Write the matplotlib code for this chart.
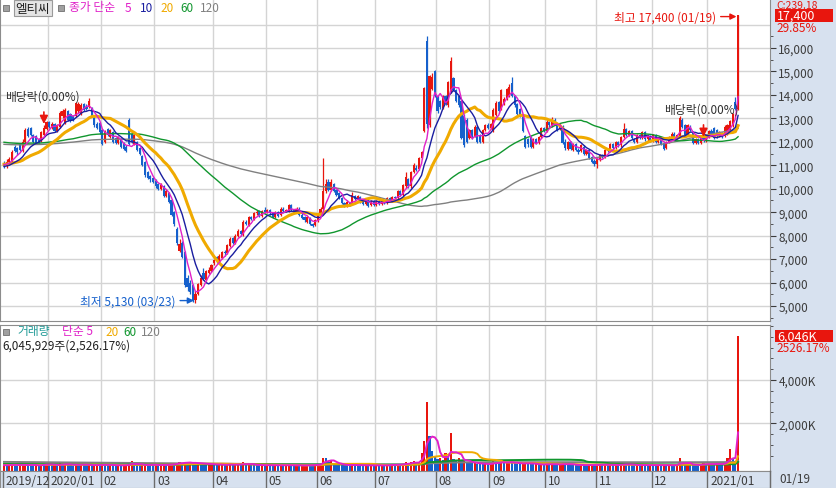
import numpy as np
import pandas as pd
import matplotlib
matplotlib.use("Agg")
import matplotlib.pyplot as plt
from matplotlib.patches import Rectangle
from matplotlib import transforms
from matplotlib.ticker import FixedLocator, FuncFormatter

plt.rcParams['font.family'] = ['Noto Sans CJK KR', 'DejaVu Sans']

W, H = 836, 489

# trading days per month shown on the chart
month_labels = ["2019/12", "2020/01", "02", "03", "04", "05", "06", "07",
                "08", "09", "10", "11", "12", "2021/01"]
month_days = [17, 20, 20, 22, 20, 19, 22, 23, 20, 21, 19, 21, 21, 12]
last_label = "01/19"

opens = [
    11100, 10950, 11150, 11200, 11800, 11750, 11900, 11600, 12000, 12550, 12600, 12300, 12250, 12100, 12050, 12300, 12550,
    12850, 12600, 12750, 12450, 12650, 13100, 12800, 13300, 13200, 13100, 13100, 13300, 13200, 13600, 13500, 13500, 13450, 13050, 12750, 12800,
    12500, 12000, 12550, 12200, 12400, 12150, 11950, 12100, 11950, 11800, 12950, 12350, 11900, 12000, 11750, 11400, 11150, 10700, 10550, 10450,
    10350, 10200, 10000, 10100, 9700, 9800, 9500, 9000, 8300, 7350, 7700, 7300, 6200, 6000, 5900, 5250, 5500, 5900, 6400, 6100, 6400, 6500,
    6850, 7100, 6850, 7050, 7300, 7250, 7550, 7900, 7700, 8000, 8200, 8050, 8600, 8450, 8800, 8700, 8950, 9050, 8850, 9100,
    9000, 9100, 8950, 8800, 9000, 8900, 9150, 9050, 9050, 9300, 9100, 9000, 9150, 8900, 8800, 8600, 8750, 8500, 8450,
    8650, 8900, 9150, 9900, 10300, 9950, 10200, 9950, 9800, 9600, 9400, 9250, 9400, 9350, 9700, 9550, 9650, 9450, 9350, 9500, 9300, 9450,
    9300, 9450, 9350, 9450, 9400, 9600, 9500, 9650, 9600, 9900, 9750, 10100, 10400, 10100, 10700, 10900, 10850, 11300, 12450, 16300, 12700, 14250, 15000,
    13950, 13750, 13450, 13950, 13550, 14150, 14700, 14200, 13950, 13750, 13100, 12950, 12150, 12500, 12250, 12650, 12300, 12000, 12500, 12700,
    12600, 12450, 13150, 13700, 13400, 13620, 13850, 13950, 14500, 13950, 13600, 13400, 13100, 12250, 12100, 12200, 11800, 12100, 11950, 12200, 12600,
    12450, 12850, 12700, 12950, 12750, 12550, 12650, 12000, 11700, 12000, 11650, 11900, 11650, 11600, 11800, 11500, 11650, 11350, 11200,
    11050, 11250, 11450, 11350, 11650, 11600, 11900, 11750, 12000, 11850, 12200, 12550, 12300, 12450, 12100, 12000, 12300, 12150, 12400, 12100, 12250,
    12050, 12300, 12000, 12150, 11950, 11750, 12000, 12150, 12350, 12150, 12250, 12950, 12700, 12300, 12650, 12400, 11950, 12100, 11950, 12250, 12050,
    12200, 12450, 12600, 12500, 12250, 12350, 12250, 12350, 12500, 12700, 13700, 13400,
]
closes = [
    10950, 11150, 11250, 11550, 11600, 11550, 11650, 12000, 12500, 12250, 12300, 12000, 11950, 12000, 12400, 12600, 12850,
    12650, 12750, 12450, 12700, 13250, 13300, 13350, 12950, 12900, 12950, 13650, 13600, 13550, 13350, 13400, 13750, 13100, 12700, 12600, 12400,
    11900, 12450, 12300, 12500, 12000, 11950, 12200, 11800, 11700, 11600, 11900, 12000, 12300, 11650, 11500, 11000, 10600, 10450, 10400, 10300,
    10100, 10000, 10150, 9700, 9900, 9450, 8900, 8500, 7700, 7650, 7100, 5900, 5800, 5600, 5250, 5500, 5950, 6200, 6150, 6500, 6550, 6750,
    6950, 6900, 7150, 7300, 7250, 7600, 7850, 7700, 8000, 8200, 8050, 8600, 8500, 8800, 8700, 8950, 9000, 8850, 9050, 9000,
    9100, 8950, 8800, 9000, 8850, 9150, 9050, 9100, 9300, 9100, 9000, 9150, 8900, 8750, 8650, 8800, 8500, 8400, 8650,
    8900, 9150, 9900, 10200, 9950, 10300, 9900, 9750, 9600, 9400, 9250, 9450, 9300, 9750, 9550, 9700, 9450, 9350, 9500, 9250, 9450, 9300,
    9450, 9350, 9500, 9400, 9600, 9500, 9650, 9600, 9900, 9750, 10150, 10500, 10100, 10700, 11000, 10800, 11300, 11550, 14300, 12750, 14800, 14750, 13950,
    13300, 13500, 13950, 13600, 14550, 15450, 14200, 13750, 13550, 12150, 11850, 12000, 12500, 12150, 12650, 12000, 12000, 12500, 12700, 12600,
    12750, 13350, 13650, 13300, 14200, 13830, 14250, 14350, 13950, 13550, 13200, 13100, 12450, 11800, 11900, 11800, 12100, 11950, 12200, 12600, 12450,
    12850, 12700, 12950, 12750, 12500, 12700, 11950, 11750, 12000, 11700, 11900, 11650, 11550, 11850, 11500, 11650, 11300, 11150, 11050,
    11250, 11450, 11350, 11650, 11600, 11900, 11750, 12000, 11850, 12200, 12550, 12300, 12450, 12150, 12000, 12300, 12150, 12400, 12100, 12250, 12050,
    12300, 12000, 12150, 11900, 11700, 12000, 12200, 12350, 12150, 12300, 13000, 12650, 12300, 12700, 12500, 11950, 12100, 11950, 12250, 12050, 12300,
    12450, 12300, 12150, 12250, 12400, 12200, 12650, 12700, 12900, 13200, 13400, 17400,
]
highs = [
    11200, 11250, 11350, 11650, 11850, 11800, 11950, 12100, 12600, 12650, 12650, 12350, 12300, 12150, 12450, 12700, 12900,
    12900, 12850, 12800, 12750, 13300, 13400, 13450, 13350, 13250, 13150, 13700, 13700, 13650, 13650, 13600, 13850, 13500, 13100, 12850, 12850,
    12550, 12500, 12600, 12550, 12450, 12200, 12250, 12150, 12000, 11850, 13000, 12400, 12350, 12050, 11800, 11450, 11200, 10750, 10600, 10500,
    10400, 10250, 10250, 10150, 10000, 9850, 9550, 9050, 8350, 7850, 7750, 7350, 6300, 6100, 5950, 5650, 6000, 6300, 6600, 6550, 6650, 6800,
    7000, 7150, 7200, 7350, 7400, 7650, 7950, 7950, 8050, 8300, 8250, 8650, 8650, 8850, 8850, 9000, 9100, 9100, 9100, 9200,
    9150, 9150, 9000, 9050, 9050, 9200, 9200, 9150, 9350, 9350, 9150, 9200, 9200, 8950, 8850, 8850, 8800, 8550, 8700,
    8950, 9200, 11300, 10400, 10400, 10400, 10250, 10000, 9850, 9650, 9450, 9500, 9450, 9850, 9750, 9750, 9700, 9500, 9550, 9550, 9500, 9500,
    9500, 9500, 9550, 9500, 9650, 9650, 9700, 9700, 9950, 9950, 10200, 10700, 10450, 10750, 11100, 11000, 11350, 11600, 14350, 16500, 14850, 14950, 15050,
    14000, 13800, 14000, 14000, 14600, 15600, 14750, 14250, 14000, 13800, 13200, 13000, 12550, 12550, 12700, 12700, 12350, 12550, 12750, 12800,
    12800, 13450, 13750, 13750, 14250, 13900, 14300, 14450, 14750, 14000, 13650, 13450, 13150, 12300, 12150, 12250, 12150, 12150, 12250, 12650, 12650,
    12950, 12900, 13050, 13000, 12800, 12800, 12700, 12100, 12050, 12050, 11950, 11950, 11750, 11900, 11850, 11700, 11700, 11400, 11250,
    11300, 11500, 11500, 11700, 11700, 11950, 11950, 12050, 12050, 12250, 12800, 12600, 12500, 12500, 12150, 12350, 12350, 12450, 12450, 12300, 12300,
    12350, 12350, 12200, 12200, 12000, 12050, 12250, 12400, 12400, 12350, 13100, 13000, 12750, 12750, 12700, 12450, 12150, 12150, 12300, 12150, 12350,
    12500, 12550, 12650, 12550, 12450, 12400, 12700, 12750, 12950, 13250, 13900, 17400,
]
lows = [
    10900, 10900, 11050, 11150, 11550, 11450, 11600, 11550, 11950, 12200, 12250, 11950, 11900, 11950, 12000, 12250, 12500,
    12600, 12550, 12400, 12400, 12600, 13000, 12750, 12900, 12850, 12900, 13050, 13250, 13150, 13300, 13350, 13450, 13050, 12650, 12550, 12350,
    11850, 11950, 12250, 12150, 11950, 11900, 11900, 11750, 11650, 11550, 11850, 11950, 11850, 11600, 11450, 10950, 10500, 10400, 10300, 10250,
    10050, 9950, 9950, 9650, 9650, 9400, 8850, 8400, 7600, 7300, 7050, 5800, 5650, 5500, 5150, 5130, 5450, 5850, 6100, 6050, 6350, 6450,
    6750, 6850, 6800, 7000, 7150, 7200, 7500, 7650, 7650, 7950, 8000, 8000, 8450, 8400, 8650, 8650, 8900, 8800, 8800, 8950,
    8950, 8900, 8750, 8750, 8800, 8850, 9000, 9000, 9000, 9050, 8950, 8950, 8850, 8700, 8600, 8550, 8450, 8350, 8400,
    8600, 8850, 9100, 9800, 9900, 9900, 9850, 9700, 9550, 9350, 9200, 9200, 9250, 9300, 9500, 9500, 9400, 9300, 9300, 9200, 9250, 9250,
    9250, 9300, 9300, 9350, 9350, 9450, 9450, 9550, 9550, 9700, 9700, 10050, 10050, 10050, 10650, 10750, 10800, 11250, 12400, 12600, 12650, 14200, 13900,
    13250, 13400, 13400, 13550, 13500, 14100, 14150, 13700, 13500, 12100, 11800, 11950, 12100, 12100, 12200, 11950, 11950, 11950, 12450, 12550,
    12550, 12400, 13100, 13250, 13350, 13550, 13800, 13900, 13900, 13500, 13150, 13050, 12400, 11750, 11800, 11750, 11750, 11900, 11900, 12150, 12400,
    12400, 12650, 12650, 12700, 12450, 12500, 11900, 11650, 11650, 11650, 11600, 11600, 11500, 11550, 11450, 11450, 11250, 11100, 10950,
    10900, 11200, 11300, 11300, 11550, 11550, 11700, 11700, 11800, 11800, 12150, 12250, 12250, 12100, 11950, 11950, 12100, 12100, 12050, 12050, 12000,
    12000, 11950, 11950, 11850, 11650, 11700, 11950, 12100, 12100, 12100, 12200, 12600, 12250, 12250, 12450, 11900, 11900, 11900, 11900, 12000, 12000,
    12150, 12250, 12100, 12150, 12200, 12150, 12200, 12300, 12450, 12650, 13350, 13350,
]
# volume in thousand shares
volumes_k = [
    60, 45, 80, 150, 70, 55, 60, 90, 140, 75, 60, 50, 55, 45, 120, 100, 130,
    90, 60, 70, 50, 160, 110, 130, 80, 60, 50, 140, 90, 110, 70, 60, 90, 55, 70, 80, 75,
    110, 90, 60, 80, 55, 50, 60, 55, 70, 80, 110, 250, 80, 65, 60, 85, 100, 90, 75, 70,
    80, 65, 70, 95, 75, 100, 130, 115, 150, 230, 140, 220, 170, 180, 150, 140, 170, 150, 120, 100, 110, 115,
    100, 80, 85, 90, 65, 105, 120, 80, 85, 100, 70, 220, 90, 110, 80, 70, 65, 60, 75, 65,
    65, 60, 50, 65, 60, 75, 50, 60, 80, 65, 50, 60, 45, 55, 60, 75, 65, 60, 80,
    100, 140, 420, 380, 220, 260, 140, 100, 90, 80, 75, 65, 60, 100, 75, 65, 60, 55, 60, 55, 60, 55,
    60, 55, 60, 55, 70, 60, 140, 60, 90, 75, 130, 190, 130, 190, 250, 160, 200, 650, 1200, 2980, 1400, 700, 470,
    350, 420, 300, 650, 500, 1530, 330, 300, 420, 250, 300, 200, 180, 150, 170, 140, 130, 110, 120, 100,
    130, 250, 200, 150, 230, 180, 200, 220, 190, 150, 130, 120, 160, 200, 150, 120, 100, 110, 90, 100, 80,
    150, 110, 120, 90, 80, 90, 180, 120, 100, 85, 80, 70, 65, 80, 70, 60, 75, 90, 80,
    90, 100, 75, 85, 70, 95, 70, 80, 65, 110, 160, 90, 80, 70, 65, 80, 70, 75, 65, 60, 70,
    60, 55, 65, 60, 70, 60, 80, 70, 55, 60, 400, 150, 100, 110, 90, 80, 70, 60, 90, 200, 100,
    110, 90, 80, 230, 100, 90, 150, 420, 790, 420, 230.2185, 6045.929,
]

price_ma_prior = {5: 11050, 10: 10950, 20: 11050, 60: 12000, 120: 11900}
vol_ma_prior = {5: 70, 20: 80, 60: 130, 120: 220}
price_ma_colors = {5: "#e020c8", 10: "#1a1ea0", 20: "#f0aa00", 60: "#10962e", 120: "#808080"}
price_ma_widths = {5: 1.0, 10: 1.0, 20: 2.2, 60: 1.0, 120: 1.0}
vol_ma_colors = {5: "#e020c8", 20: "#f0aa00", 60: "#10962e", 120: "#808080"}

name = "엘티씨"
ex_div_days = [15, 263]
max_text = "최고 17,400 (01/19)"
min_text = "최저 5,130 (03/23)"

UP, DOWN = "#e8160e", "#1560cc"
GRID = "#d4d4d4"
PANEL = "#d7e1ef"
SPINE = "#8c8c8c"
TICKC = "#3c3c3c"

o = np.array(opens, float)
c = np.array(closes, float)
hi = np.array(highs, float)
lo = np.array(lows, float)
vol = np.array(volumes_k, float) * 1000
n = len(c)
x = np.arange(n)


def moving_avg(vals, k, prior):
    s = pd.concat([pd.Series([prior] * (k - 1), dtype=float), pd.Series(vals)], ignore_index=True)
    return s.rolling(k).mean().iloc[k - 1:].to_numpy()


def fx(px):
    return px / W


def fy(py):
    return 1 - py / H


starts = np.cumsum([0] + month_days[:-1])
bounds = starts - 0.5
xlim = (-1.5, 288)

fig = plt.figure(figsize=(W / 100, H / 100), dpi=100)
fig.patches.append(Rectangle((fx(770), 0), 1 - fx(770), 1, transform=fig.transFigure,
                             facecolor=PANEL, edgecolor="none", zorder=-5))

ax_p = fig.add_axes([0, fy(322), fx(770), 322 / H])
ax_v = fig.add_axes([0, fy(472), fx(770), (472 - 326) / H])
ax_d = fig.add_axes([0, 0, fx(770), 17 / H])

# ---- price panel
pmin, pmax = 4359, 18090
ax_p.set_xlim(*xlim)
ax_p.set_ylim(pmin, pmax)
for lvl in range(5000, 17001, 1000):
    ax_p.axhline(lvl, color=GRID, lw=1, zorder=0)
for b in bounds[1:]:
    ax_p.axvline(b, color=GRID, lw=1, zorder=0)

up = c >= o
cols = np.where(up, UP, DOWN)
ax_p.vlines(x, lo, hi, colors=cols, lw=0.9, zorder=2)
body = np.maximum(np.abs(c - o), 40)
ax_p.bar(x, body, bottom=np.minimum(o, c), width=0.8, color=cols, linewidth=0, zorder=3)

for k in [120, 60, 20, 10, 5]:
    ax_p.plot(x, moving_avg(c, k, price_ma_prior[k]), color=price_ma_colors[k],
              lw=price_ma_widths[k], zorder=4)

ax_p.yaxis.tick_right()
ax_p.yaxis.set_major_locator(FixedLocator(range(5000, 16001, 1000)))
ax_p.yaxis.set_minor_locator(FixedLocator(range(4500, 16501, 500)))
ax_p.yaxis.set_major_formatter(FuncFormatter(lambda v, p: f"{int(v):,}"))
ax_p.tick_params(axis="y", which="major", length=4, color=TICKC, labelsize=8.5,
                 labelcolor=TICKC, pad=2)
ax_p.tick_params(axis="y", which="minor", length=2, color=TICKC)
ax_p.set_xticks([])
for s in ax_p.spines.values():
    s.set_color(SPINE)
ax_p.spines["top"].set_visible(False)

# max / min annotations
i_max = int(np.argmax(hi))
i_min = int(np.argmin(lo))
ax_p.annotate(max_text, xy=(i_max - 0.6, hi[i_max] - 60), xytext=(-20, 0), textcoords="offset pixels",
              ha="right", va="center", color=UP, fontsize=8.5,
              arrowprops=dict(arrowstyle="-|>", color=UP, lw=1, shrinkA=1, shrinkB=0, mutation_scale=9), zorder=6)
ax_p.annotate(min_text, xy=(i_min - 0.6, lo[i_min] + 100), xytext=(-18, 0), textcoords="offset pixels",
              ha="right", va="center", color=DOWN, fontsize=8.5,
              arrowprops=dict(arrowstyle="-|>", color=DOWN, lw=1, shrinkA=1, shrinkB=0, mutation_scale=9), zorder=6)

# ex-dividend marks
for d in ex_div_days:
    ax_p.annotate("", xy=(d, hi[d] + 60), xytext=(0, 12), textcoords="offset pixels",
                  arrowprops=dict(arrowstyle="-|>", color=UP, lw=1.2, shrinkA=0, shrinkB=0, mutation_scale=12), zorder=6)
    ax_p.annotate("배당락(0.00%)", xy=(d, hi[d]), xytext=(-2, 29), textcoords="offset pixels",
                  ha="center", va="center", color="#303030", fontsize=8.5, zorder=6)

# header legend
fig.patches.append(Rectangle((fx(3), fy(12)), fx(6), 6 / H, transform=fig.transFigure,
                             facecolor="#a0a0a0", edgecolor="#707070", lw=0.6))
fig.text(fx(33), fy(9), name, ha="center", va="center", fontsize=9, color="#202020",
         bbox=dict(boxstyle="square,pad=0.15", fc="#e4e4e4", ec="#9a9a9a", lw=0.8))
fig.patches.append(Rectangle((fx(58), fy(12)), fx(6), 6 / H, transform=fig.transFigure,
                             facecolor="#a0a0a0", edgecolor="#707070", lw=0.6))
fig.text(fx(69), fy(8), "종가 단순", ha="left", va="center", fontsize=8.5, color=price_ma_colors[5])
for px, k in zip([125, 140, 160, 180, 200], [5, 10, 20, 60, 120]):
    fig.text(fx(px), fy(8), str(k), ha="left", va="center", fontsize=8.5, color=price_ma_colors[k])

# right-side price labels
bt = transforms.blended_transform_factory(fig.transFigure, ax_p.transData)
wpp = (pmax - pmin) / 322
last = c[-1]
fig.text(fx(776), last + 10.5 * wpp, "C:239.18", transform=bt, ha="left", va="center",
         fontsize=7.5, color=UP, zorder=4)
fig.patches.append(Rectangle((fx(775), last - 6.5 * wpp), fx(58), 13 * wpp, transform=bt,
                             facecolor=UP, edgecolor="none", zorder=5))
fig.text(fx(777), last, f"{int(last):,}", transform=bt, ha="left", va="center",
         fontsize=9, color="white", zorder=6)
fig.text(fx(776), last - 12.5 * wpp, f"{(c[-1] / c[-2] - 1) * 100:.2f}%", transform=bt,
         ha="left", va="center", fontsize=8.5, color=UP)

# ---- volume panel
vmin, vmax = -203e3, 6540e3
ax_v.set_xlim(*xlim)
ax_v.set_ylim(vmin, vmax)
for lvl in [2e6, 4e6]:
    ax_v.axhline(lvl, color=GRID, lw=1, zorder=0)
for b in bounds[1:]:
    ax_v.axvline(b, color=GRID, lw=1, zorder=0)
vup = np.concatenate([[True], vol[1:] >= vol[:-1]])
ax_v.bar(x, vol - vmin, bottom=vmin, width=0.8, color=np.where(vup, UP, DOWN), linewidth=0, zorder=2)
for k in [120, 60, 20, 5]:
    ax_v.plot(x, moving_avg(vol, k, vol_ma_prior[k] * 1000), color=vol_ma_colors[k], lw=1.4, zorder=3)

ax_v.yaxis.tick_right()
ax_v.yaxis.set_major_locator(FixedLocator([2e6, 4e6]))
ax_v.yaxis.set_minor_locator(FixedLocator(np.arange(500e3, 6501e3, 500e3)))
ax_v.yaxis.set_major_formatter(FuncFormatter(lambda v, p: f"{int(v / 1000):,}K"))
ax_v.tick_params(axis="y", which="major", length=4, color=TICKC, labelsize=8.5,
                 labelcolor=TICKC, pad=2)
ax_v.tick_params(axis="y", which="minor", length=2, color=TICKC)
ax_v.set_xticks([])
for s in ax_v.spines.values():
    s.set_color(SPINE)

vt = transforms.blended_transform_factory(fig.transFigure, ax_v.transData)
vpp = (vmax - vmin) / (472 - 326)
lv = vol[-1]
fig.patches.append(Rectangle((fx(775), lv - 6 * vpp), fx(58), 12 * vpp, transform=vt,
                             facecolor=UP, edgecolor="none", zorder=5))
fig.text(fx(777), lv, f"{lv / 1000:,.0f}K", transform=vt, ha="left", va="center",
         fontsize=9, color="white", zorder=6)
vpct = (vol[-1] / vol[-2] - 1) * 100
fig.text(fx(776), lv - 12 * vpp, f"{vpct:.2f}%", transform=vt, ha="left", va="center",
         fontsize=8.5, color=UP)

fig.patches.append(Rectangle((fx(3), fy(336)), fx(6), 6 / H, transform=fig.transFigure,
                             facecolor="#a0a0a0", edgecolor="#707070", lw=0.6))
fig.text(fx(17), fy(332), "거래량", ha="left", va="center", fontsize=8.5, color="#1f9a96")
fig.text(fx(62), fy(332), "단순 5", ha="left", va="center", fontsize=8.5, color=vol_ma_colors[5])
for px, k in zip([105, 123, 141], [20, 60, 120]):
    fig.text(fx(px), fy(332), str(k), ha="left", va="center", fontsize=8.5, color=vol_ma_colors[k])
fig.text(fx(2), fy(346), f"{int(round(lv)):,}주({vpct:,.2f}%)", ha="left", va="center",
         fontsize=8.5, color="#202020")

# ---- date strip
ax_d.set_xlim(*xlim)
ax_d.set_ylim(0, 1)
ax_d.set_facecolor(PANEL)
ax_d.set_xticks([])
ax_d.set_yticks([])
for s in ax_d.spines.values():
    s.set_color(SPINE)
for b, lab in zip(bounds, month_labels):
    if b > xlim[0]:
        ax_d.axvline(b, color="#6c6c6c", lw=1)
    ax_d.text(max(b + 1.0, xlim[0] + 0.4), 0.45, lab, ha="left", va="center", fontsize=8.5, color=TICKC)
fig.lines.append(plt.Line2D([fx(770), fx(770)], [0, 17 / H], transform=fig.transFigure, color="#6c6c6c", lw=1))
fig.text(fx(779), fy(480), last_label, ha="left", va="center", fontsize=8.5, color=TICKC)

fig.savefig("out.png", dpi=100, facecolor="white")
